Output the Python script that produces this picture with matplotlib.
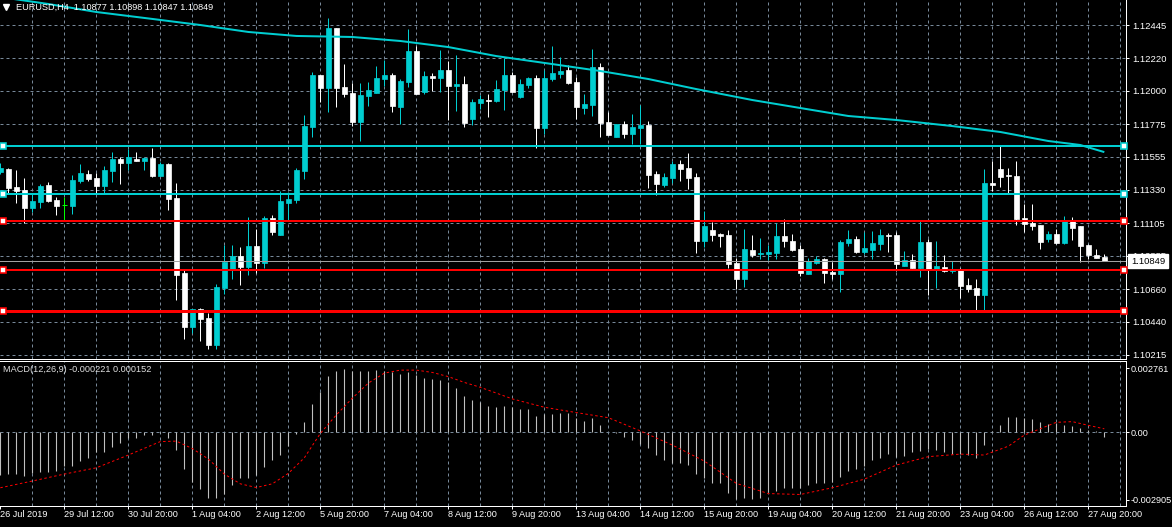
import numpy as np
import matplotlib.pyplot as plt
from matplotlib.transforms import blended_transform_factory

plt.rcParams["font.family"] = ["Liberation Sans", "DejaVu Sans"]

# ---- EURUSD H4 bars (26 Jul - 27 Aug 2019) ----
opens = [1.11451, 1.11471, 1.11350, 1.11330, 1.11208, 1.11248, 1.11363, 1.11262, 1.11228, 1.11221,
         1.11390, 1.11438, 1.11411, 1.11356, 1.11458, 1.11539, 1.11512, 1.11539, 1.11525, 1.11546,
         1.11424, 1.11505, 1.11276, 1.10769, 1.10404, 1.10525, 1.10464, 1.10282, 1.10667, 1.10789,
         1.10883, 1.10809, 1.10951, 1.10836, 1.11140, 1.11025, 1.11242, 1.11262, 1.11458, 1.11755,
         1.12107, 1.12019, 1.12425, 1.12026, 1.11985, 1.11789, 1.11965, 1.11985, 1.12080, 1.12107,
         1.11891, 1.12060, 1.12269, 1.11992, 1.12100, 1.12087, 1.12141, 1.12033, 1.12046, 1.11810,
         1.11918, 1.11938, 1.11931, 1.12006, 1.12107, 1.11958, 1.12039, 1.12087, 1.11749, 1.12080,
         1.12114, 1.12141, 1.12060, 1.11884, 1.11904, 1.12161, 1.11789, 1.11688, 1.11776, 1.11708,
         1.11749, 1.11769, 1.11438, 1.11363, 1.11411, 1.11505, 1.11478, 1.11418, 1.10985, 1.11059,
         1.11032, 1.11025, 1.10836, 1.10728, 1.10924, 1.10897, 1.10897, 1.10904, 1.11019, 1.10985,
         1.10931, 1.10762, 1.10836, 1.10863, 1.10775, 1.10762, 1.10971, 1.10998, 1.10910, 1.10924,
         1.10965, 1.11025, 1.11025, 1.10816, 1.10856, 1.10802, 1.10978, 1.10789, 1.10809, 1.10782,
         1.10789, 1.10687, 1.10667, 1.10620, 1.11377, 1.11471, 1.11431, 1.11424, 1.11140, 1.11107,
         1.11093, 1.10998, 1.11032, 1.10971, 1.11127, 1.11086, 1.10958, 1.10890, 1.10877]
highs = [1.11512, 1.11478, 1.11465, 1.11411, 1.11310, 1.11370, 1.11383, 1.11283, 1.11283, 1.11431,
         1.11505, 1.11465, 1.11444, 1.11491, 1.11586, 1.11553, 1.11607, 1.11586, 1.11553, 1.11614,
         1.11518, 1.11512, 1.11377, 1.10795, 1.10525, 1.10532, 1.10498, 1.10694, 1.10958, 1.10958,
         1.10944, 1.11147, 1.11066, 1.11154, 1.11160, 1.11323, 1.11316, 1.11478, 1.11836, 1.12127,
         1.12107, 1.12492, 1.12425, 1.12181, 1.12053, 1.12053, 1.12060, 1.12168, 1.12208, 1.12121,
         1.12080, 1.12418, 1.12303, 1.12134, 1.12121, 1.12276, 1.12202, 1.12242, 1.12100, 1.11945,
         1.11972, 1.11979, 1.12073, 1.12222, 1.12127, 1.12080, 1.12094, 1.12107, 1.12141, 1.12303,
         1.12229, 1.12175, 1.12094, 1.11979, 1.12283, 1.12188, 1.11857, 1.11776, 1.11796, 1.11843,
         1.11904, 1.11796, 1.11458, 1.11444, 1.11525, 1.11532, 1.11580, 1.11444, 1.11188, 1.11113,
         1.11039, 1.11059, 1.10870, 1.11066, 1.11025, 1.11005, 1.10958, 1.11107, 1.11134, 1.11032,
         1.10958, 1.10870, 1.10883, 1.10870, 1.10842, 1.10992, 1.11059, 1.11019, 1.11045, 1.11052,
         1.11066, 1.11039, 1.11045, 1.10917, 1.10897, 1.11127, 1.10998, 1.10985, 1.10890, 1.10850,
         1.10802, 1.10735, 1.10728, 1.11471, 1.11525, 1.11634, 1.11478, 1.11525, 1.11235, 1.11235,
         1.11093, 1.11052, 1.11066, 1.11154, 1.11147, 1.11086, 1.10965, 1.10931, 1.10898]
lows = [1.11438, 1.11310, 1.11242, 1.11107, 1.11180, 1.11208, 1.11248, 1.11160, 1.11127, 1.11167,
        1.11377, 1.11390, 1.11310, 1.11310, 1.11383, 1.11370, 1.11465, 1.11525, 1.11465, 1.11418,
        1.11424, 1.11194, 1.10586, 1.10322, 1.10363, 1.10309, 1.10255, 1.10255, 1.10627, 1.10728,
        1.10687, 1.10755, 1.10769, 1.10802, 1.11025, 1.11025, 1.11127, 1.11242, 1.11404, 1.11688,
        1.11924, 1.11857, 1.11891, 1.11958, 1.11762, 1.11661, 1.11897, 1.11985, 1.12033, 1.11857,
        1.11776, 1.12026, 1.11979, 1.11979, 1.11999, 1.11992, 1.11803, 1.11864, 1.11755, 1.11769,
        1.11877, 1.11823, 1.11924, 1.11870, 1.11992, 1.11951, 1.12019, 1.11614, 1.11708, 1.12066,
        1.12087, 1.12046, 1.11810, 1.11843, 1.11830, 1.11688, 1.11701, 1.11688, 1.11681, 1.11641,
        1.11641, 1.11343, 1.11296, 1.11350, 1.11377, 1.11390, 1.11336, 1.10904, 1.10944, 1.10985,
        1.10944, 1.10802, 1.10660, 1.10674, 1.10877, 1.10863, 1.10856, 1.10863, 1.10944, 1.10917,
        1.10748, 1.10762, 1.10829, 1.10701, 1.10728, 1.10640, 1.10951, 1.10904, 1.10897, 1.10863,
        1.10924, 1.10910, 1.10782, 1.10816, 1.10802, 1.10742, 1.10620, 1.10667, 1.10775, 1.10769,
        1.10600, 1.10640, 1.10505, 1.10518, 1.11323, 1.11350, 1.11310, 1.11093, 1.11045, 1.11059,
        1.10931, 1.10978, 1.10965, 1.10965, 1.10992, 1.10842, 1.10863, 1.10870, 1.10847]
closes = [1.11478, 1.11343, 1.11323, 1.11208, 1.11255, 1.11356, 1.11255, 1.11221, 1.11228, 1.11397,
          1.11444, 1.11404, 1.11356, 1.11465, 1.11539, 1.11512, 1.11553, 1.11525, 1.11546, 1.11424,
          1.11505, 1.11269, 1.10755, 1.10404, 1.10525, 1.10457, 1.10282, 1.10674, 1.10842, 1.10883,
          1.10809, 1.10951, 1.10836, 1.11140, 1.11045, 1.11255, 1.11269, 1.11465, 1.11762, 1.12107,
          1.12019, 1.12425, 1.12019, 1.11979, 1.11789, 1.11972, 1.12006, 1.12087, 1.12107, 1.11897,
          1.12066, 1.12269, 1.11979, 1.12100, 1.12087, 1.12141, 1.12033, 1.12046, 1.11783, 1.11924,
          1.11945, 1.11931, 1.12012, 1.12107, 1.11992, 1.12046, 1.12087, 1.11749, 1.12087, 1.12121,
          1.12134, 1.12053, 1.11891, 1.11911, 1.12161, 1.11783, 1.11701, 1.11776, 1.11708, 1.11755,
          1.11769, 1.11431, 1.11370, 1.11418, 1.11505, 1.11471, 1.11411, 1.10985, 1.11086, 1.11025,
          1.11019, 1.10829, 1.10728, 1.10931, 1.10890, 1.10904, 1.10910, 1.11019, 1.10985, 1.10924,
          1.10769, 1.10850, 1.10863, 1.10769, 1.10762, 1.10978, 1.10998, 1.10910, 1.10938, 1.10971,
          1.11025, 1.11019, 1.10829, 1.10856, 1.10802, 1.10978, 1.10789, 1.10816, 1.10782, 1.10789,
          1.10681, 1.10660, 1.10620, 1.11377, 1.11363, 1.11418, 1.11424, 1.11134, 1.11100, 1.11086,
          1.10978, 1.11032, 1.10971, 1.11127, 1.11073, 1.10951, 1.10890, 1.10870, 1.10849]

# slow moving average (read at a few bars)
ma_bars = [0, 6, 12, 19, 25, 31, 37, 44, 50, 56, 62, 69, 75, 81, 87, 94, 100, 106, 112, 119, 125, 131, 135, 138]
ma_vals = [1.12634, 1.12587, 1.12533, 1.12486, 1.12445, 1.12398, 1.12371, 1.12364, 1.12337, 1.12296,
           1.12235, 1.12181, 1.12134, 1.12080, 1.12012, 1.11938, 1.11884, 1.11830, 1.11803, 1.11762,
           1.11722, 1.11661, 1.11634, 1.11586]

# horizontal levels
level_prices = [1.11627, 1.11303, 1.11122, 1.10791, 1.10511]
level_colors = ["#00CED1", "#00CED1", "#FF0000", "#FF0000", "#FF0000"]
level_widths = [2, 2, 2, 2, 3]
bid = 1.10849

price_ticks = [1.12445, 1.12220, 1.12000, 1.11775, 1.11555, 1.11330, 1.11105, 1.10885, 1.10660, 1.10440, 1.10215]

# MACD(12,26,9): main line as histogram, signal at a few bars
macd = [-0.00184, -0.00180, -0.00180, -0.00187, -0.00177, -0.00170, -0.00170, -0.00167, -0.00144, -0.00144,
        -0.00124, -0.00109, -0.00086, -0.00084, -0.00062, -0.00048, -0.00026, -0.00023, -0.00012, -0.00012,
        -0.00003, -0.00023, -0.00076, -0.00156, -0.00213, -0.00245, -0.00285, -0.00282, -0.00264, -0.00228,
        -0.00199, -0.00199, -0.00184, -0.00148, -0.00120, -0.00098, -0.00058, -0.00009, 0.00046, 0.00121,
        0.00173, 0.00243, 0.00266, 0.00274, 0.00265, 0.00265, 0.00265, 0.00269, 0.00265, 0.00258,
        0.00252, 0.00259, 0.00245, 0.00233, 0.00230, 0.00226, 0.00216, 0.00193, 0.00157, 0.00140,
        0.00132, 0.00114, 0.00111, 0.00114, 0.00107, 0.00101, 0.00101, 0.00072, 0.00079, 0.00079,
        0.00082, 0.00082, 0.00063, 0.00049, 0.00060, 0.00032, 0.00002, -0.00005, -0.00019, -0.00033,
        -0.00050, -0.00069, -0.00098, -0.00120, -0.00134, -0.00131, -0.00141, -0.00181, -0.00199, -0.00220,
        -0.00220, -0.00261, -0.00288, -0.00285, -0.00288, -0.00282, -0.00256, -0.00253, -0.00242, -0.00239,
        -0.00242, -0.00228, -0.00220, -0.00217, -0.00216, -0.00194, -0.00166, -0.00158, -0.00144, -0.00120,
        -0.00109, -0.00095, -0.00105, -0.00101, -0.00086, -0.00081, -0.00073, -0.00076, -0.00084, -0.00094,
        -0.00094, -0.00098, -0.00112, -0.00055, 0.00005, 0.00032, 0.00066, 0.00066, 0.00063, 0.00058,
        0.00046, 0.00036, 0.00039, 0.00032, 0.00027, 0.00017, 0.00010, 0.00006, -0.00022]
sig_bars = [0, 4, 8, 12, 16, 20, 22, 24, 26, 28, 30, 32, 34, 36, 38, 40, 42, 44, 46, 48, 50, 52, 54, 56,
            58, 60, 64, 68, 72, 76, 80, 84, 88, 92, 96, 100, 104, 108, 112, 116, 120, 123, 126, 128, 132,
            134, 136, 138]
sig_vals = [-0.00239, -0.00210, -0.00180, -0.00153, -0.00098, -0.00040, -0.00038, -0.00070, -0.00115, -0.00180,
            -0.00222, -0.00238, -0.00222, -0.00177, -0.00110, -0.00005, 0.00075, 0.00147, 0.00212, 0.00255,
            0.00268, 0.00268, 0.00258, 0.00240, 0.00215, 0.00194, 0.00144, 0.00108, 0.00085, 0.00063,
            0.00006, -0.00055, -0.00124, -0.00220, -0.00264, -0.00268, -0.00239, -0.00202, -0.00141, -0.00105,
            -0.00094, -0.00098, -0.00060, -0.00012, 0.00043, 0.00046, 0.00030, 0.00015]
macd_ticks = [0.002761, 0.0, -0.002905]
macd_ticklabels = ["0.002761", "0.00", "-0.002905"]

date_labels = ["26 Jul 2019", "29 Jul 12:00", "30 Jul 20:00", "1 Aug 04:00", "2 Aug 12:00", "5 Aug 20:00",
               "7 Aug 04:00", "8 Aug 12:00", "9 Aug 20:00", "13 Aug 04:00", "14 Aug 12:00", "15 Aug 20:00",
               "19 Aug 04:00", "20 Aug 12:00", "21 Aug 20:00", "23 Aug 04:00", "26 Aug 12:00", "27 Aug 20:00"]

# ---- styling ----
CYAN = "#00CED1"
GRID = "#778899"
PX = 0.72  # one pixel in points (dpi 100)
FS = 6.6
W, H = 1172, 527

fig = plt.figure(figsize=(W / 100, H / 100), dpi=100, facecolor="black")
ax = fig.add_axes([0, (H - 358.5) / H, 1126 / W, 358.5 / H], facecolor="black")
ax2 = fig.add_axes([0, (H - 506) / H, 1126 / W, 145 / H], facecolor="black")

xlim = (-0.04, 140.71)
for a in (ax, ax2):
    a.set_xlim(*xlim)
    for s in a.spines.values():
        s.set_visible(False)
    for k in range(4, 141, 4):
        a.axvline(k, color=GRID, lw=PX, ls=(0, (3, 3)), zorder=0)

# ---- price panel ----
ax.set_ylim(1.10191, 1.12614)
for p in price_ticks:
    ax.axhline(p, color=GRID, lw=PX, ls=(0, (3, 3)), zorder=0)

x = np.arange(len(closes))
o, hi, lo, c = (np.array(v) for v in (opens, highs, lows, closes))
cols = np.where(c > o, CYAN, np.where(c < o, "white", "#00FF00"))
ax.vlines(x, lo, hi, colors=cols, lw=PX, zorder=2)
body = c != o
ax.bar(x[body], np.abs(c - o)[body], bottom=np.minimum(o, c)[body], width=0.56,
       color=cols[body], edgecolor=cols[body], linewidth=0.5, zorder=3)
ax.hlines(c[~body], x[~body] - 0.31, x[~body] + 0.31, colors="#00FF00", lw=PX, zorder=3)

ax.plot(ma_bars, ma_vals, color=CYAN, lw=2 * PX, zorder=4, solid_capstyle="butt")
ax.axhline(bid, color="#A0A0A0", lw=PX, zorder=4)

for p, col, w in zip(level_prices, level_colors, level_widths):
    ax.axhline(p, color=col, lw=w * PX, zorder=5)
    ax.plot([0.31, 140.44], [p, p], "s", ms=4.2, mfc="white", mec=col, mew=1.6 * PX,
            zorder=6, clip_on=False)

ax.yaxis.tick_right()
ax.set_yticks(price_ticks)
ax.set_yticklabels([f"{t:.5f}" for t in price_ticks])
ax.tick_params(axis="y", colors="white", labelcolor="white", labelsize=FS + 0.2, length=3 * PX,
               width=PX, pad=3.5 * PX)
ax.tick_params(axis="x", bottom=False, labelbottom=False)
ax.spines["right"].set_visible(True)
ax.spines["right"].set_color("white")
ax.spines["right"].set_linewidth(PX)
ax.spines["bottom"].set_visible(True)
ax.spines["bottom"].set_color("white")
ax.spines["bottom"].set_linewidth(PX)

# current bid label covers the tick label beneath it, as in the terminal
tr = blended_transform_factory(ax.transAxes, ax.transData)
ax.text(1131 / 1126, bid, f"{bid:.5f}", transform=tr, color="black", fontsize=FS + 0.2, va="center",
        ha="left", zorder=20, clip_on=False,
        bbox=dict(boxstyle="square,pad=0.28", fc="white", ec="white"))

fig.text(16 / W, 1 - 7.5 / H, "EURUSD,H4  1.10877 1.10898 1.10847 1.10849", color="white",
         fontsize=FS, va="center", ha="left", zorder=20)
ax.plot([6 / 1126], [1 - 7 / 358.5], "v", transform=ax.transAxes, color="white", ms=4.5,
        clip_on=False, zorder=20)

# ---- MACD panel ----
ax2.set_ylim(-0.003176, 0.003073)
ax2.axhline(0, color=GRID, lw=PX, ls=(0, (3, 3)), zorder=0)
ax2.vlines(x, 0, macd, colors="#C0C0C0", lw=1.1 * PX, zorder=2)
ax2.plot(sig_bars, sig_vals, color="#FF0000", lw=PX, ls=(0, (2.5, 2.5)), zorder=3)
ax2.text(3 / 1126, (506 - 370) / 145, "MACD(12,26,9) -0.000221 0.000152", transform=ax2.transAxes,
         color="#E0E0E0", fontsize=FS, va="center", ha="left", zorder=10)

ax2.yaxis.tick_right()
ax2.set_yticks(macd_ticks)
ax2.set_yticklabels(macd_ticklabels)
ax2.set_xticks(np.arange(0, 8 * len(date_labels), 8))
ax2.set_xticklabels(date_labels, ha="left")
ax2.tick_params(axis="both", colors="white", labelcolor="white", labelsize=FS, length=3 * PX,
                width=PX, pad=2 * PX)
ax2.tick_params(axis="x", pad=1 * PX)
for side in ("top", "right", "bottom"):
    ax2.spines[side].set_visible(True)
    ax2.spines[side].set_color("white")
    ax2.spines[side].set_linewidth(PX)

fig.savefig("out.png", dpi=100, facecolor="black")
